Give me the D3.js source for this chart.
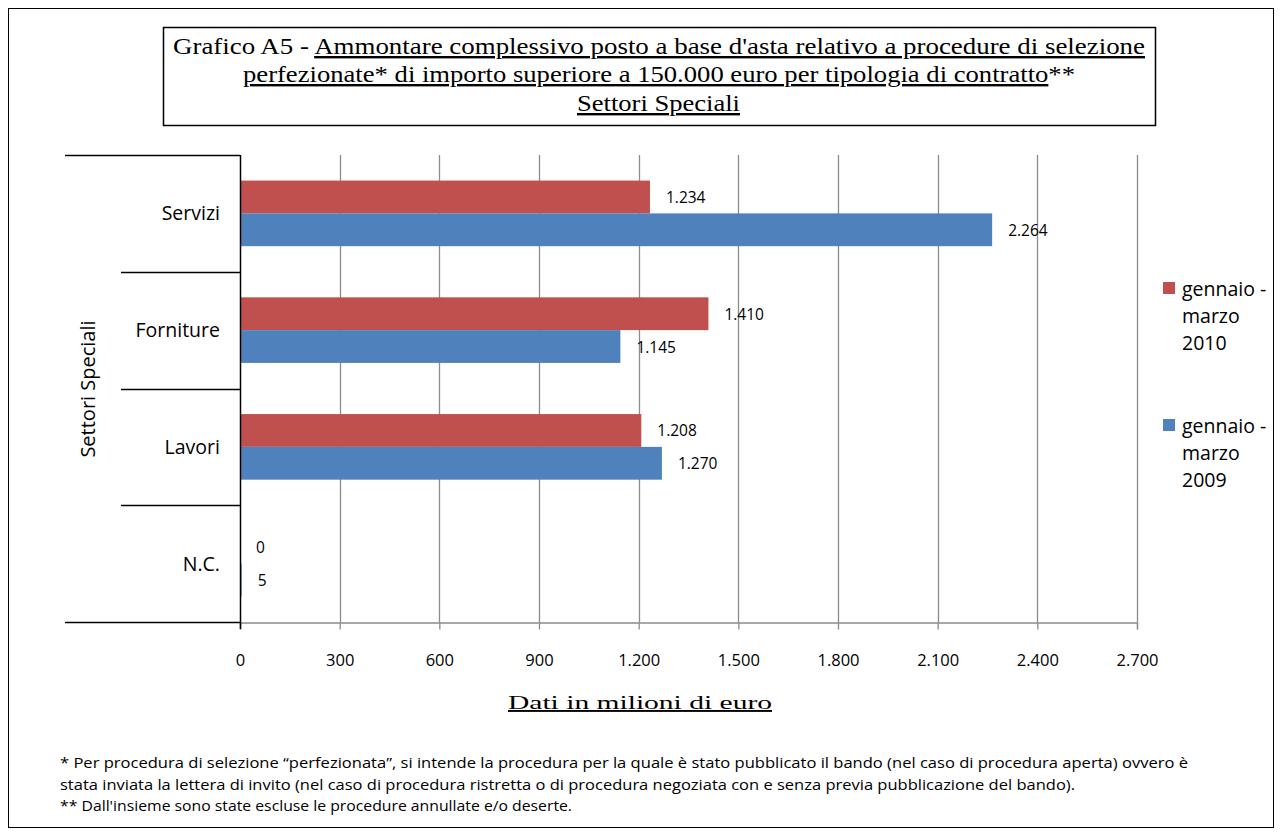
<!DOCTYPE html>
<html><head><meta charset="utf-8">
<script src="https://cdn.jsdelivr.net/npm/d3@7"></script>
<style>body{margin:0;background:#fff}svg{display:block}</style>
</head><body>
<script>
const categories = ["Servizi", "Forniture", "Lavori", "N.C."];
const seriesNames = ["gennaio - marzo 2010", "gennaio - marzo 2009"];
const values2010 = [1234, 1410, 1208, 0];
const values2009 = [2264, 1145, 1270, 5];
const xTicks = [0, 300, 600, 900, 1200, 1500, 1800, 2100, 2400, 2700];
const colors = ["#C0504D", "#4F81BD"];

const W = 1282, H = 836;
const svg = d3.select("body").append("svg").attr("width", W).attr("height", H);
svg.append("rect").attr("x", 8.5).attr("y", 8.5).attr("width", 1265).attr("height", 819)
  .attr("fill", "none").attr("stroke", "#000").attr("stroke-width", 1);

// Title box
svg.append("rect").attr("x", 163.5).attr("y", 27.5).attr("width", 992).attr("height", 98)
  .attr("fill", "none").attr("stroke", "#000").attr("stroke-width", 1.5);
const tf = "'Liberation Serif','Times New Roman',serif";
const t1 = svg.append("text").attr("x", 173).attr("y", 54)
  .attr("font-family", tf).attr("font-size", 24).attr("textLength", 972).attr("lengthAdjust", "spacingAndGlyphs");
t1.append("tspan").text("Grafico  A5 - ");
t1.append("tspan").attr("text-decoration", "underline").text("Ammontare complessivo posto a base d'asta relativo a procedure di selezione");
const t2 = svg.append("text").attr("x", 243).attr("y", 82)
  .attr("font-family", tf).attr("font-size", 24).attr("textLength", 832).attr("lengthAdjust", "spacingAndGlyphs");
t2.append("tspan").attr("text-decoration", "underline").text("perfezionate* di importo superiore a 150.000 euro per tipologia di contratto");
t2.append("tspan").text("**");
svg.append("text").attr("x", 577).attr("y", 111)
  .attr("font-family", tf).attr("font-size", 24).attr("text-decoration", "underline")
  .attr("textLength", 163).attr("lengthAdjust", "spacingAndGlyphs").text("Settori Speciali");

// Scales
const x = d3.scaleLinear().domain([0, 2700]).range([240, 1137]);
const y = d3.scaleBand().domain(categories).range([155, 622]);
const sub = d3.scaleBand().domain([0, 1]).range([0, y.bandwidth()]).paddingOuter(0.78).paddingInner(0);

const sf = "'Open Sans','Noto Sans',sans-serif";

// gridlines
svg.append("g").selectAll("line").data(xTicks.slice(1)).join("line")
  .attr("x1", d => Math.round(x(d)) + 0.5).attr("x2", d => Math.round(x(d)) + 0.5)
  .attr("y1", 155).attr("y2", 622).attr("stroke", "#8c8c8c").attr("stroke-width", 1.3);

// x axis
const xAxis = svg.append("g").attr("transform", "translate(0,622.5)")
  .call(d3.axisBottom(x).tickValues(xTicks).tickSize(7).tickFormat(d => d3.format(",")(d).replace(/,/g, ".")));
xAxis.select(".domain").attr("stroke", "#8c8c8c").attr("stroke-width", 1.3);
xAxis.selectAll(".tick line").attr("stroke", "#8c8c8c").attr("stroke-width", 1.3);
xAxis.selectAll("text").attr("font-family", sf).attr("font-size", 16.5).attr("fill", "#000").attr("y", 43).attr("dy", "0");

// Bars
const data = [];
categories.forEach((c, i) => {
  data.push({c, s: 0, v: values2010[i]});
  data.push({c, s: 1, v: values2009[i]});
});
svg.append("g").selectAll("rect").data(data).join("rect")
  .attr("x", x(0)).attr("y", d => y(d.c) + sub(d.s))
  .attr("width", d => Math.max(0, x(d.v) - x(0))).attr("height", sub.bandwidth())
  .attr("fill", d => colors[d.s]);
svg.append("g").selectAll("text").data(data).join("text")
  .attr("x", d => x(d.v) + 16).attr("y", d => y(d.c) + sub(d.s) + sub.bandwidth() / 2 + 6)
  .attr("font-family", sf).attr("font-size", 15.5).attr("fill", "#000")
  .text(d => d3.format(",")(d.v).replace(/,/g, "."));

// left category axis
const g = svg.append("g");
g.append("line").attr("x1", 240.5).attr("x2", 240.5).attr("y1", 155).attr("y2", 629).attr("stroke", "#000").attr("stroke-width", 1.5);
const seps = [155, ...categories.map(c => y(c) + y.bandwidth())];
g.selectAll("line.sep").data(seps).join("line").attr("class", "sep")
  .attr("x1", (d, i) => (i === 0 || i === seps.length - 1) ? 65 : 121).attr("x2", 240)
  .attr("y1", d => Math.round(d) + 0.5).attr("y2", d => Math.round(d) + 0.5)
  .attr("stroke", "#000").attr("stroke-width", 1.5);
g.selectAll("text.cat").data(categories).join("text").attr("class", "cat")
  .attr("x", 220).attr("y", d => y(d) + y.bandwidth() / 2 + 7).attr("text-anchor", "end")
  .attr("font-family", sf).attr("font-size", 19.5).attr("fill", "#000").text(d => d);
svg.append("text").attr("transform", "translate(95,389) rotate(-90)").attr("text-anchor", "middle")
  .attr("font-family", sf).attr("font-size", 20).attr("fill", "#000").text("Settori Speciali");

// x axis title
svg.append("text").attr("x", 508).attr("y", 709)
  .attr("font-family", tf).attr("font-size", 19).attr("text-decoration", "underline")
  .attr("textLength", 264).attr("lengthAdjust", "spacingAndGlyphs")
  .attr("fill", "#000").text("Dati in milioni di euro");

// Legend
const legY = [282, 419];
const legLines = [["gennaio -", "marzo", "2010"], ["gennaio -", "marzo", "2009"]];
legY.forEach((ly, i) => {
  svg.append("rect").attr("x", 1163).attr("y", ly).attr("width", 12).attr("height", 12).attr("fill", colors[i]);
  const t = svg.append("text").attr("x", 1182).attr("font-family", sf).attr("font-size", 19.5).attr("fill", "#000");
  legLines[i].forEach((l, j) => t.append("tspan").attr("x", 1182).attr("y", ly + 14 + j * 27).text(l));
});

// Footnotes
const notes = [
  "* Per procedura di selezione \u201cperfezionata\u201d, si intende la procedura per la quale è stato pubblicato il bando (nel caso di procedura aperta) ovvero è",
  "stata inviata la lettera di invito (nel caso di procedura ristretta o di procedura negoziata con e senza previa pubblicazione del bando).",
  "** Dall'insieme sono state escluse le procedure annullate e/o deserte."
];
const noteW = [1128, 1015, 512];
svg.append("g").selectAll("text").data(notes).join("text")
  .attr("x", 60).attr("y", (d, i) => 768 + i * 21.5)
  .attr("font-family", sf).attr("font-size", 14).attr("fill", "#000")
  .attr("textLength", (d, i) => noteW[i]).attr("lengthAdjust", "spacingAndGlyphs")
  .text(d => d);
</script>
</body></html>
